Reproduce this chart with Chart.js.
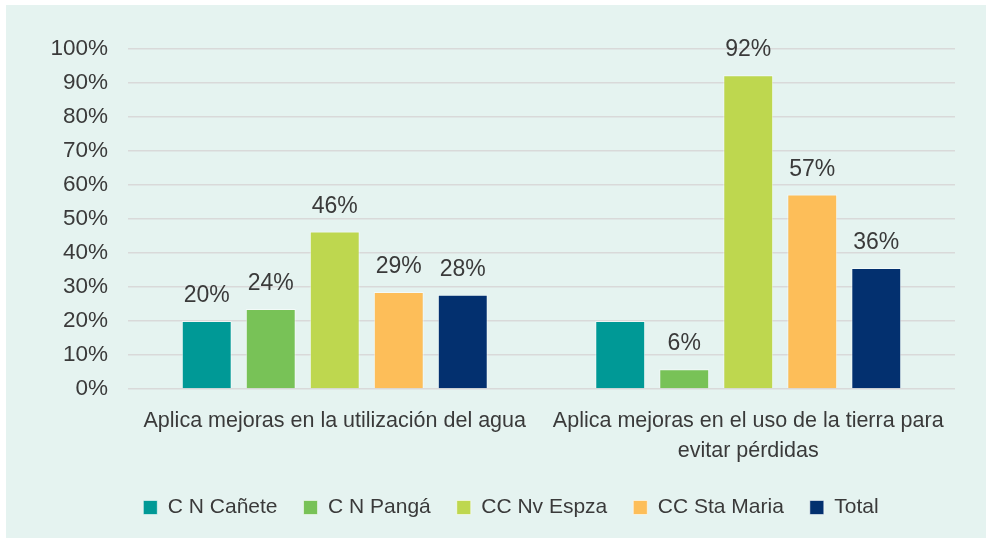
<!DOCTYPE html>
<html>
<head>
<meta charset="utf-8">
<script src="https://cdn.jsdelivr.net/npm/chart.js@4/dist/chart.umd.min.js"></script>
<style>
  html, body { margin: 0; padding: 0; background: #ffffff; }
  #wrap { position: absolute; left: 6px; top: 5px; width: 980px; height: 533px; background: #E5F3F0; }
  canvas { display: block; }
</style>
</head>
<body>
<div id="wrap"><canvas id="c" width="980" height="533"></canvas></div>
<script>
// ---- data ----
const categories = [
  ["Aplica mejoras en la utilización del agua"],
  ["Aplica mejoras en el uso de la tierra para", "evitar pérdidas"]
];
const seriesNames = ["C N Cañete", "C N Pangá", "CC Nv Espza", "CC Sta Maria", "Total"];
const caneteValues  = [20.0, 20.0];
const pangaValues   = [23.5, 5.8];
const espzaValues   = [46.3, 92.3];
const mariaValues   = [28.5, 57.2];
const totalValues   = [27.7, 35.6];
// value labels shown above bars ("" = no label in the original)
const caneteLabels  = ["20%", ""];
const pangaLabels   = ["24%", "6%"];
const espzaLabels   = ["46%", "92%"];
const mariaLabels   = ["29%", "57%"];
const totalLabels   = ["28%", "36%"];
const yTicks = [0, 10, 20, 30, 40, 50, 60, 70, 80, 90, 100];

const colors = ["#009996", "#78C257", "#BED74F", "#FDBE59", "#03306F"];
const FONT = "'Liberation Sans', Arial, sans-serif";
const TEXT = "#3a3a3a";

const valueLabelPlugin = {
  id: 'valueLabels',
  afterDatasetsDraw(chart) {
    const ctx = chart.ctx;
    ctx.save();
    ctx.font = "23px " + FONT;
    ctx.fillStyle = TEXT;
    ctx.textAlign = 'center';
    ctx.textBaseline = 'alphabetic';
    chart.data.datasets.forEach((ds, i) => {
      const meta = chart.getDatasetMeta(i);
      meta.data.forEach((bar, j) => {
        const t = ds.valueLabels[j];
        if (!t) return;
        ctx.fillText(t, bar.x, bar.y - 19);
      });
    });
    ctx.restore();
  }
};

const valueSets = [caneteValues, pangaValues, espzaValues, mariaValues, totalValues];
const labelSets = [caneteLabels, pangaLabels, espzaLabels, mariaLabels, totalLabels];

new Chart(document.getElementById('c'), {
  type: 'bar',
  data: {
    labels: categories,
    datasets: seriesNames.map((name, i) => ({
      label: name,
      data: valueSets[i],
      valueLabels: labelSets[i],
      backgroundColor: colors[i],
      borderColor: 'rgba(255,255,255,0.55)',
      borderWidth: 1,
      categoryPercentage: 0.774,
      barPercentage: 0.78
    }))
  },
  options: {
    responsive: false,
    animation: false,
    layout: { padding: { top: 44, right: 0, bottom: 10, left: 30 } },
    plugins: {
      tooltip: { enabled: false },
      legend: {
        position: 'bottom',
        labels: {
          font: { family: FONT, size: 21 },
          color: TEXT,
          boxWidth: 14,
          boxHeight: 14,
          padding: 26
        }
      }
    },
    scales: {
      x: {
        grid: { display: false, drawTicks: false },
        border: { display: false },
        ticks: {
          font: { family: FONT, size: 21.5, lineHeight: 1.4 },
          color: TEXT,
          padding: 17,
          maxRotation: 0
        },
        afterFit(scale) { scale.height = 82; }
      },
      y: {
        min: 0, max: 100,
        afterBuildTicks(scale) { scale.ticks = yTicks.map(v => ({ value: v })); },
        grid: { color: '#D9D9D9', lineWidth: 1.5, drawTicks: false },
        border: { display: false },
        ticks: {
          font: { family: FONT, size: 22.5 },
          color: TEXT,
          padding: 20,
          callback: v => v + '%'
        },
        afterFit(scale) { scale.width = 92; }
      },
      yRight: {
        position: 'right',
        display: true,
        min: 0, max: 100,
        grid: { display: false, drawTicks: false },
        border: { display: false },
        ticks: { display: false },
        afterFit(scale) { scale.width = 31; }
      }
    }
  },
  plugins: [valueLabelPlugin]
});
</script>
</body>
</html>
